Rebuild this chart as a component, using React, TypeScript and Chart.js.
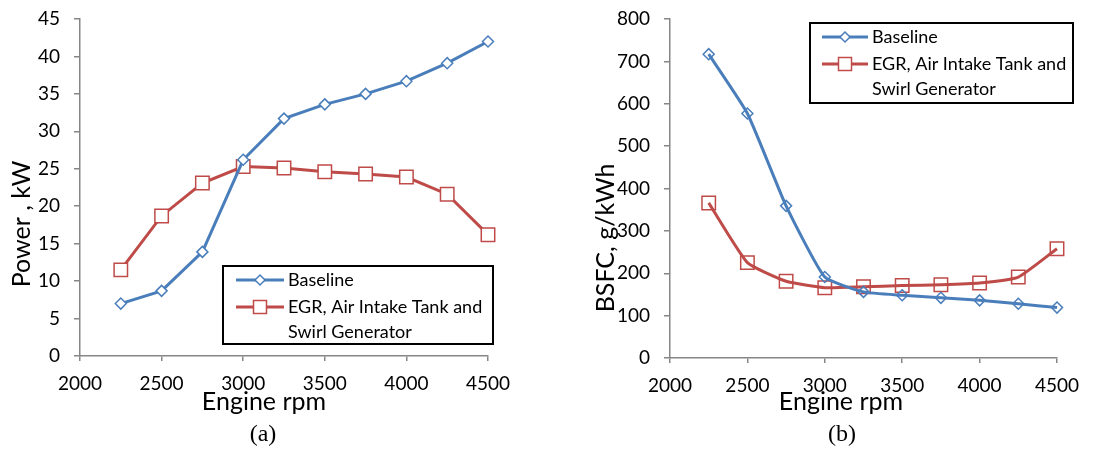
import React, { useEffect, useRef } from 'react';
import { Chart, registerables } from 'chart.js';

Chart.register(...registerables);

// ---------- data ----------
const rpm = [2250, 2500, 2750, 3000, 3250, 3500, 3750, 4000, 4250, 4500];
const powerBaseline = [7.0, 8.7, 13.9, 26.2, 31.7, 33.6, 35.0, 36.7, 39.1, 42.0];
const powerEGR = [11.5, 18.7, 23.1, 25.3, 25.1, 24.6, 24.3, 23.9, 21.6, 16.2];
const bsfcBaseline = [717, 577, 359, 191, 156, 148, 142, 136, 128, 119];
const bsfcEGR = [366, 225, 181, 166, 168, 171, 173, 177, 191, 258];
const xTicks = [2000, 2500, 3000, 3500, 4000, 4500];
const powerTicks = [0, 5, 10, 15, 20, 25, 30, 35, 40, 45];
const bsfcTicks = [0, 100, 200, 300, 400, 500, 600, 700, 800];
const baselineLabel = ['Baseline'];
const egrLabel = ['EGR, Air Intake Tank and', 'Swirl Generator'];
const xTitle = 'Engine rpm';
const powerTitle = 'Power , kW';
const bsfcTitle = 'BSFC, g/kWh';

const BLUE = '#4A7EBB';
const RED = '#BE4B48';
const AXIS = '#868686';
const FONT = 'Lato';

type Geo = {
  width: number;
  padRight: number;
  padTop: number;
  yWidth: number;
  xHeight: number;
  legend: { x: number; y: number; w: number; h: number; lineX: number; textX: number; rows: number[] };
  yTitle: { x: number; y: number; text: string };
  xTitle: { x: number; y: number };
  caption: { x: number; y: number; text: string };
  markerFill: string;
  tension: number;
};

function drawDiamond(ctx: CanvasRenderingContext2D, x: number, y: number, r: number) {
  ctx.beginPath();
  ctx.moveTo(x - r, y);
  ctx.lineTo(x, y - r);
  ctx.lineTo(x + r, y);
  ctx.lineTo(x, y + r);
  ctx.closePath();
}

function makeChart(canvas: HTMLCanvasElement, base: number[], egr: number[], yTicks: number[], geo: Geo) {
  const overlay = {
    id: 'overlay',
    afterDraw(chart: any) {
      const ctx: CanvasRenderingContext2D = chart.ctx;
      ctx.save();
      // legend
      const L = geo.legend;
      ctx.fillStyle = '#fff';
      ctx.fillRect(L.x, L.y, L.w, L.h);
      ctx.strokeStyle = '#000';
      ctx.lineWidth = 2;
      ctx.strokeRect(L.x, L.y, L.w, L.h);
      const items = [
        { color: BLUE, lines: baselineLabel, shape: 'diamond' },
        { color: RED, lines: egrLabel, shape: 'square' },
      ];
      let row = 0;
      ctx.font = `18px ${FONT}`;
      ctx.textBaseline = 'middle';
      ctx.textAlign = 'left';
      items.forEach((it) => {
        const y = L.rows[row];
        ctx.strokeStyle = it.color;
        ctx.lineWidth = 3;
        ctx.beginPath();
        ctx.moveTo(L.lineX, y);
        ctx.lineTo(L.textX - 4, y);
        ctx.stroke();
        const cx = (L.lineX + L.textX - 4) / 2;
        ctx.lineWidth = 1.5;
        ctx.fillStyle = '#fff';
        if (it.shape === 'diamond') {
          drawDiamond(ctx, cx, y, 5);
        } else {
          ctx.beginPath();
          ctx.rect(cx - 6.5, y - 6.5, 13, 13);
        }
        ctx.fill();
        ctx.stroke();
        ctx.fillStyle = '#000';
        it.lines.forEach((t) => {
          ctx.fillText(t, L.textX, L.rows[row]);
          row++;
        });
      });
      // axis titles
      ctx.fillStyle = '#000';
      ctx.font = `25px ${FONT}`;
      ctx.textAlign = 'center';
      ctx.textBaseline = 'middle';
      ctx.fillText(xTitle, geo.xTitle.x, geo.xTitle.y);
      ctx.save();
      ctx.translate(geo.yTitle.x, geo.yTitle.y);
      ctx.rotate(-Math.PI / 2);
      ctx.fillText(geo.yTitle.text, 0, 0);
      ctx.restore();
      // caption
      ctx.font = `24px "Liberation Serif"`;
      ctx.fillText(geo.caption.text, geo.caption.x, geo.caption.y);
      ctx.restore();
    },
  };

  const tickFont = { family: FONT, size: 19 };
  return new Chart(canvas, {
    type: 'line',
    data: {
      datasets: [
        {
          label: baselineLabel.join(' '),
          data: rpm.map((x, i) => ({ x, y: base[i] })),
          borderColor: BLUE,
          borderWidth: 3,
          pointStyle: 'rectRot',
          pointRadius: 5.5,
          pointBorderWidth: 1.5,
          pointBackgroundColor: geo.markerFill,
          pointBorderColor: BLUE,
          tension: geo.tension,
          clip: false,
        },
        {
          label: egrLabel.join(' '),
          data: rpm.map((x, i) => ({ x, y: egr[i] })),
          borderColor: RED,
          borderWidth: 3,
          pointStyle: 'rect',
          pointRadius: 9.5,
          pointBorderWidth: 1.5,
          pointBackgroundColor: geo.markerFill,
          pointBorderColor: RED,
          tension: geo.tension,
          clip: false,
        },
      ],
    },
    options: {
      responsive: false,
      animation: false,
      layout: { padding: { left: 0, right: geo.padRight, top: geo.padTop, bottom: 0 } },
      plugins: { legend: { display: false }, tooltip: { enabled: false } },
      scales: {
        x: {
          type: 'linear',
          min: xTicks[0],
          max: xTicks[xTicks.length - 1],
          afterBuildTicks: (s: any) => {
            s.ticks = xTicks.map((v) => ({ value: v }));
          },
          afterFit: (s: any) => {
            s.height = geo.xHeight;
            s.paddingLeft = 0;
            s.paddingRight = 0;
          },
          ticks: { font: tickFont, color: '#000', padding: 11, maxRotation: 0, autoSkip: false, callback: (v: any) => String(v) },
          grid: { drawOnChartArea: false, drawTicks: true, tickLength: 5, color: AXIS, lineWidth: 1.5 },
          border: { color: AXIS, width: 1.5 },
        },
        y: {
          type: 'linear',
          min: yTicks[0],
          max: yTicks[yTicks.length - 1],
          afterBuildTicks: (s: any) => {
            s.ticks = yTicks.map((v) => ({ value: v }));
          },
          afterFit: (s: any) => {
            s.width = geo.yWidth;
            s.paddingTop = 0;
            s.paddingBottom = 0;
          },
          ticks: { font: tickFont, color: '#000', padding: 14, autoSkip: false, callback: (v: any) => String(v) },
          grid: { drawOnChartArea: false, drawTicks: true, tickLength: 6, color: AXIS, lineWidth: 1.5 },
          border: { color: AXIS, width: 1.5 },
        },
      },
    },
    plugins: [overlay],
  } as any);
}

const geoA: Geo = {
  width: 548,
  padRight: 60,
  padTop: 19,
  yWidth: 80,
  xHeight: 94,
  legend: { x: 223, y: 266, w: 270, h: 78, lineX: 236, textX: 288, rows: [280, 307, 332] },
  yTitle: { x: 22, y: 224, text: powerTitle },
  xTitle: { x: 264, y: 402 },
  caption: { x: 263, y: 435, text: '(a)' },
  markerFill: '#ffffff',
  tension: 0,
};

const geoB: Geo = {
  width: 549,
  padRight: 40,
  padTop: 19,
  yWidth: 122,
  xHeight: 92,
  legend: { x: 262, y: 23, w: 263, h: 80, lineX: 274, textX: 324, rows: [37, 64, 89] },
  yTitle: { x: 58, y: 238, text: bsfcTitle },
  xTitle: { x: 293, y: 402 },
  caption: { x: 294, y: 435, text: '(b)' },
  markerFill: 'rgba(255,255,255,0)',
  tension: 0.15,
};

export default function App() {
  const refA = useRef<HTMLCanvasElement>(null);
  const refB = useRef<HTMLCanvasElement>(null);
  useEffect(() => {
    const a = makeChart(refA.current!, powerBaseline, powerEGR, powerTicks, geoA);
    const b = makeChart(refB.current!, bsfcBaseline, bsfcEGR, bsfcTicks, geoB);
    return () => {
      a.destroy();
      b.destroy();
    };
  }, []);
  return (
    <div style={{ position: 'fixed', left: 0, top: 0, width: 1097, height: 450, background: '#fff' }}>
      <canvas ref={refA} width={548} height={450} style={{ position: 'absolute', left: 0, top: 0 }} />
      <canvas ref={refB} width={549} height={450} style={{ position: 'absolute', left: 548, top: 0 }} />
    </div>
  );
}
